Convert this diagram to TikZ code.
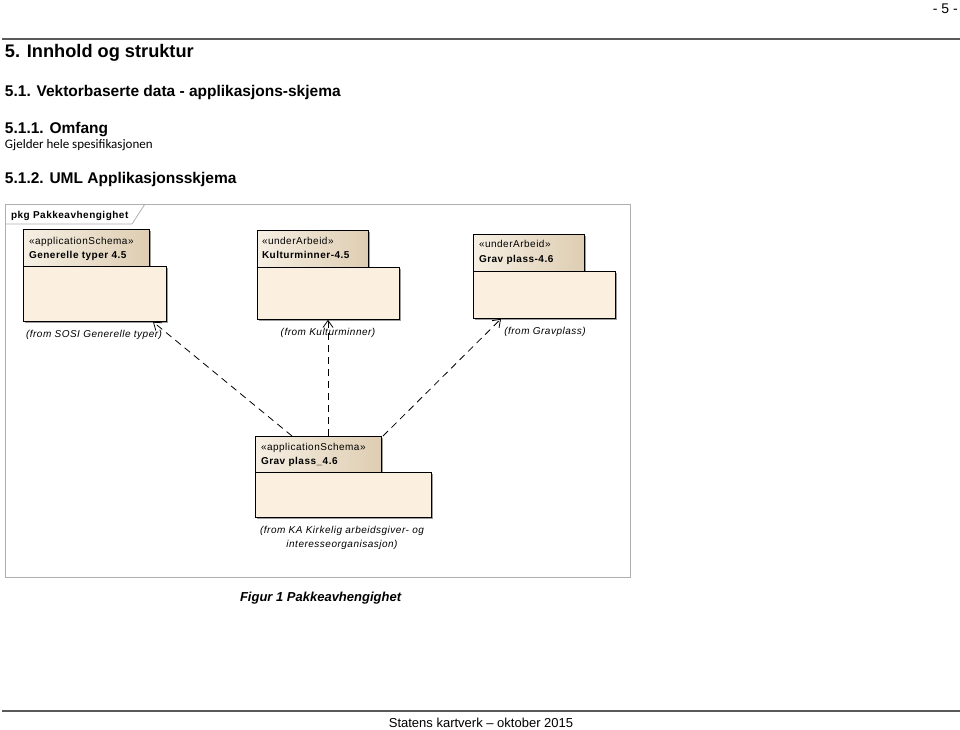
\documentclass[tikz,border=0pt]{standalone}
\usepackage{fontspec}
\setmainfont{Liberation Sans}
\newfontfamily\calibri{Carlito}
\newfontfamily\umlfont[LetterSpace=5]{Liberation Sans}
\usetikzlibrary{arrows.meta,calc,shadows}
\definecolor{tanL}{RGB}{246,239,227}
\definecolor{tanD}{RGB}{222,205,178}
\definecolor{bodyC}{RGB}{251,240,223}
\definecolor{frameC}{RGB}{175,175,175}
\definecolor{ruleC}{RGB}{90,90,90}
\tikzset{
  txt/.style={anchor=base west, inner sep=0pt, outer sep=0pt},
  tabbox/.style={draw=black, line width=0.8pt, anchor=north west, inner sep=0pt,
    left color=tanL, right color=tanD,
    drop shadow={shadow xshift=2pt, shadow yshift=-2pt, fill=black!55, opacity=0.7}},
  bodybox/.style={draw=black, line width=0.8pt, anchor=north west, inner sep=0pt, fill=bodyC,
    drop shadow={shadow xshift=2pt, shadow yshift=-2pt, fill=black!55, opacity=0.7}},
  ster/.style={txt, font=\umlfont\fontsize{10}{12}\selectfont},
  pname/.style={txt, font=\umlfont\bfseries\fontsize{10}{12}\selectfont},
  from/.style={anchor=base, inner sep=0pt, font=\umlfont\itshape\fontsize{10}{12}\selectfont},
  dep/.style={dashed, dash pattern=on 7pt off 5pt, line width=0.8pt, -{Straight Barb[length=7pt,width=10pt,line width=0.8pt]}},
}
\begin{document}
\begin{tikzpicture}[x=1pt,y=-1pt]
\useasboundingbox (0,0) rectangle (960,729);
% page header / footer
\node[anchor=base east, inner sep=0pt, font=\fontsize{14}{16}\selectfont] (pnum) at (958,13) {- 5 -};
\draw[ruleC, line width=1.3pt] (2,39) -- (960,39);
\draw[ruleC, line width=1.3pt] (2,711) -- (960,711);
\node[anchor=base, inner sep=0pt, font=\fontsize{13}{15}\selectfont] (foot) at (481,727) {Statens kartverk – oktober 2015};
% headings
\node[txt, font=\bfseries\fontsize{18.2}{20}\selectfont] (h1) at (5,57) {5. Innhold og struktur};
\node[txt, font=\bfseries\fontsize{15.5}{18}\selectfont] (h2) at (5,96) {5.1. Vektorbaserte data - applikasjons-skjema};
\node[txt, font=\bfseries\fontsize{15.5}{18}\selectfont] (h3) at (5,133) {5.1.1. Omfang};
\node[txt, font=\calibri\fontsize{13}{15}\selectfont] (p1) at (5,148) {Gjelder hele spesifikasjonen};
\node[txt, font=\bfseries\fontsize{15.5}{18}\selectfont] (h4) at (5,183) {5.1.2. UML Applikasjonsskjema};
% frame
\draw[frameC, line width=0.8pt] (5,204) rectangle (630,577);
\draw[frameC, line width=0.8pt] (5,224) -- (132,224) -- (145,204);
\node[txt, font=\umlfont\bfseries\fontsize{10}{12}\selectfont] (pkg) at (11,218) {pkg Pakkeavhengighet};
% package 1
\node[tabbox, minimum width=126pt, minimum height=37pt] (t1) at (23,229) {};
\node[bodybox, minimum width=143pt, minimum height=55pt] (b1) at (23,266) {};
\node[ster] (s1) at (29,244) {«applicationSchema»};
\node[pname] (n1) at (29,258) {Generelle typer 4.5};
\node[from] (f1) at (94,337) {(from SOSI Generelle typer)};
% package 2
\node[tabbox, minimum width=111pt, minimum height=37pt] (t2) at (257,230) {};
\node[bodybox, minimum width=142pt, minimum height=52pt] (b2) at (257,267) {};
\node[ster] (s2) at (262,244) {«underArbeid»};
\node[pname] (n2) at (262,258) {Kulturminner-4.5};
\node[from] (f2) at (328,335) {(from Kulturminner)};
% package 3
\node[tabbox, minimum width=111pt, minimum height=37pt] (t3) at (473,234) {};
\node[bodybox, minimum width=142pt, minimum height=47pt] (b3) at (473,271) {};
\node[ster] (s3) at (479,247) {«underArbeid»};
\node[pname] (n3) at (479,262) {Grav plass-4.6};
\node[from] (f3) at (545,334) {(from Gravplass)};
% package 4
\node[tabbox, minimum width=126pt, minimum height=36pt] (t4) at (255,436) {};
\node[bodybox, minimum width=176pt, minimum height=45pt] (b4) at (255,472) {};
\node[ster] (s4) at (261,450) {«applicationSchema»};
\node[pname] (n4) at (261,464) {Grav plass\_4.6};
\node[from] (f4) at (342,533) {(from KA Kirkelig arbeidsgiver- og};
\node[from] (f5) at (342,547) {interesseorganisasjon)};
% dependencies
\draw[dep] ($(t4.north west)+(37,0)$) -- ($(b1.south west)+(130,0)$);
\draw[dep] ($(t4.north west)+(73,0)$) -- ($(b2.south west)+(71,0)$);
\draw[dep] ($(t4.north west)+(128,0)$) -- ($(b3.south west)+(28,0)$);
% caption
\node[txt, font=\bfseries\itshape\fontsize{13}{15}\selectfont] (cap) at (240,601) {Figur 1 Pakkeavhengighet};
\end{tikzpicture}
\end{document}
